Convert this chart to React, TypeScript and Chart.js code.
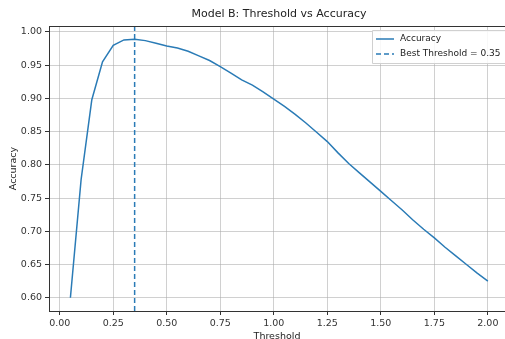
import React, { useEffect, useRef } from "react";
import { Chart, registerables } from "chart.js";

Chart.register(...registerables);

const thresholds = [
  0.05, 0.1, 0.15, 0.2, 0.25, 0.3, 0.35, 0.4, 0.45, 0.5,
  0.55, 0.6, 0.65, 0.7, 0.75, 0.8, 0.85, 0.9, 0.95, 1.0,
  1.05, 1.1, 1.15, 1.2, 1.25, 1.3, 1.35, 1.4, 1.45, 1.5,
  1.55, 1.6, 1.65, 1.7, 1.75, 1.8, 1.85, 1.9, 1.95, 2.0,
];
const accuracy = [
  0.6, 0.778, 0.898, 0.955, 0.98, 0.988, 0.989, 0.987, 0.983, 0.979,
  0.976, 0.971, 0.964, 0.957, 0.948, 0.938, 0.928, 0.92, 0.91, 0.899,
  0.888, 0.876, 0.863, 0.849, 0.835, 0.818, 0.802, 0.788, 0.774, 0.76,
  0.746, 0.732, 0.717, 0.703, 0.69, 0.676, 0.663, 0.65, 0.637, 0.625,
];
const bestThreshold = 0.35;
const xTicks = [0, 0.25, 0.5, 0.75, 1.0, 1.25, 1.5, 1.75, 2.0];
const yTicks = [0.6, 0.65, 0.7, 0.75, 0.8, 0.85, 0.9, 0.95, 1.0];
const legendLabels = ["Accuracy", "Best Threshold = 0.35"];
const titleText = "Model B: Threshold vs Accuracy";

const X_MIN = -0.05;
const X_MAX = 2.08;
const Y_MIN = 0.58;
const Y_MAX = 1.009;
const LINE = "#2a7bb6";
const FONT = "'DejaVu Sans', sans-serif";

const framePlugin = {
  id: "frameAndLegend",
  afterDraw(chart: any) {
    const { ctx, chartArea } = chart;
    const { left, top, right } = chartArea;
    ctx.save();
    // title (centred over the full, uncropped axes)
    ctx.fillStyle = "#222";
    ctx.font = `11px ${FONT}`;
    ctx.textAlign = "center";
    ctx.textBaseline = "middle";
    ctx.fillText(titleText, left + 230, 14);
    // top spine
    ctx.strokeStyle = "#333";
    ctx.lineWidth = 1;
    ctx.beginPath();
    ctx.moveTo(left, top + 0.5);
    ctx.lineTo(right, top + 0.5);
    ctx.stroke();
    // legend
    const bx = right - 133;
    const by = top + 4;
    const bw = 134;
    const bh = 33;
    ctx.fillStyle = "rgba(255,255,255,0.85)";
    ctx.strokeStyle = "#d0d0d0";
    ctx.beginPath();
    ctx.rect(bx + 0.5, by + 0.5, bw, bh);
    ctx.fill();
    ctx.stroke();
    ctx.strokeStyle = LINE;
    ctx.lineWidth = 1.5;
    const rows = [by + 9, by + 24];
    rows.forEach((ry, i) => {
      ctx.setLineDash(i === 1 ? [5, 3] : []);
      ctx.beginPath();
      ctx.moveTo(bx + 4, ry);
      ctx.lineTo(bx + 22, ry);
      ctx.stroke();
    });
    ctx.setLineDash([]);
    ctx.fillStyle = "#222";
    ctx.font = `9px ${FONT}`;
    ctx.textBaseline = "middle";
    ctx.textAlign = "left";
    rows.forEach((ry, i) => ctx.fillText(legendLabels[i], bx + 28, ry));
    ctx.restore();
  },
};

export default function App() {
  const ref = useRef<HTMLCanvasElement>(null);
  useEffect(() => {
    document.body.style.margin = "0";
    const canvas = ref.current!;
    const chart = new Chart(canvas, {
      type: "line",
      data: {
        datasets: [
          {
            label: legendLabels[0],
            data: thresholds.map((t, i) => ({ x: t, y: accuracy[i] })),
            borderColor: LINE,
            borderWidth: 1.5,
            pointRadius: 0,
            tension: 0,
          },
          {
            label: legendLabels[1],
            data: [
              { x: bestThreshold, y: Y_MIN },
              { x: bestThreshold, y: Y_MAX },
            ],
            borderColor: LINE,
            borderWidth: 1.5,
            borderDash: [5, 3],
            pointRadius: 0,
          },
        ],
      },
      options: {
        animation: false,
        responsive: false,
        devicePixelRatio: 1,
        layout: { padding: { left: 0, right: 0, top: 26, bottom: 0 } },
        plugins: {
          legend: { display: false },
          tooltip: { enabled: false },
          title: { display: false },
        },
        scales: {
          x: {
            type: "linear",
            min: X_MIN,
            max: X_MAX,
            afterBuildTicks: (s: any) => {
              s.ticks = xTicks.map((v) => ({ value: v }));
            },
            afterFit: (s: any) => {
              s.height = 28;
            },
            ticks: {
              color: "#333",
              font: { family: FONT, size: 9.5 },
              padding: 3,
              maxRotation: 0,
              autoSkip: false,
              callback: (v: any) => Number(v).toFixed(2),
            },
            grid: { color: "rgba(170,170,170,0.55)", tickColor: "#333", tickLength: 4 },
            border: { color: "#333" },
            title: {
              display: true,
              text: "Threshold",
              color: "#222",
              font: { family: FONT, size: 9.5 },
              padding: { top: 0, bottom: -3 },
            },
          },
          y: {
            type: "linear",
            min: Y_MIN,
            max: Y_MAX,
            afterBuildTicks: (s: any) => {
              s.ticks = yTicks.map((v) => ({ value: v }));
            },
            afterFit: (s: any) => {
              s.width = 49;
            },
            ticks: {
              color: "#333",
              font: { family: FONT, size: 9.5 },
              padding: 3,
              autoSkip: false,
              callback: (v: any) => Number(v).toFixed(2),
            },
            grid: { color: "rgba(170,170,170,0.55)", tickColor: "#333", tickLength: 4 },
            border: { color: "#333" },
            title: {
              display: true,
              text: "Accuracy",
              color: "#222",
              font: { family: FONT, size: 9.5 },
              padding: { top: 8, bottom: 0 },
            },
          },
        },
      },
      plugins: [framePlugin],
    } as any);
    return () => chart.destroy();
  }, []);
  return <canvas ref={ref} width={505} height={339} style={{ display: "block" }} />;
}
